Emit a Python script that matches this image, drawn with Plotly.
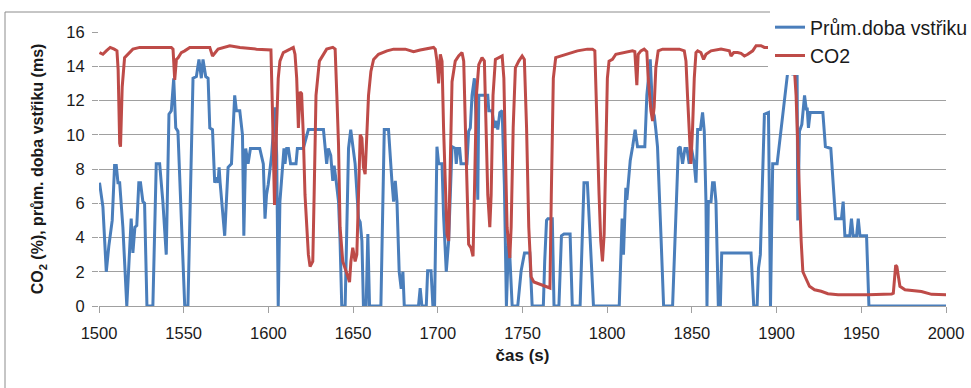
import plotly.graph_objects as go

# ---- data ----
t_inj = [1500.3, 1502.3, 1504.3, 1505.8, 1507.8, 1509.2, 1510.2, 1511.2, 1512.2, 1514.1,
         1516.4, 1519.0, 1520.0, 1521.2, 1522.3, 1523.5, 1524.5, 1525.9, 1526.9, 1528.3,
         1531.8, 1533.8, 1535.8, 1537.7, 1539.7, 1541.3, 1542.7, 1544.1, 1545.3, 1546.6,
         1550.6, 1552.5, 1555.5, 1557.5, 1559.0, 1560.4, 1561.4, 1563.0, 1564.4, 1565.4,
         1567.0, 1568.3, 1569.3, 1570.3, 1570.9, 1571.5, 1574.2, 1576.2, 1578.2, 1580.1,
         1581.1, 1583.1, 1584.7, 1585.5, 1586.6, 1588.0, 1589.4, 1594.9, 1597.0, 1598.0,
         1598.9, 1599.9, 1601.9, 1603.9, 1604.9, 1605.8, 1606.8, 1608.4, 1609.2, 1609.8,
         1610.8, 1611.8, 1613.1, 1616.3, 1617.1, 1620.6, 1623.6, 1632.5, 1633.5, 1634.4,
         1635.4, 1636.8, 1638.0, 1638.8, 1640.0, 1641.4, 1642.3, 1643.3, 1645.3, 1647.3,
         1648.6, 1649.8, 1651.2, 1653.2, 1654.2, 1655.2, 1656.1, 1657.7, 1658.7, 1659.7,
         1666.4, 1668.4, 1670.9, 1672.9, 1673.9, 1674.9, 1675.9, 1677.2, 1678.4, 1679.4,
         1680.2, 1688.6, 1689.6, 1690.6, 1693.2, 1694.0, 1696.0, 1697.1, 1698.1, 1699.5,
         1700.5, 1702.5, 1703.4, 1705.0, 1706.4, 1708.4, 1710.3, 1710.9, 1711.7, 1712.9,
         1713.7, 1717.2, 1718.2, 1719.2, 1720.2, 1721.6, 1722.8, 1723.6, 1724.2, 1729.5,
         1730.1, 1732.0, 1733.4, 1734.6, 1735.4, 1736.6, 1738.0, 1739.3, 1740.5, 1741.9,
         1742.5, 1743.9, 1747.2, 1749.2, 1751.2, 1754.3, 1755.7, 1762.3, 1763.1, 1764.2,
         1765.0, 1767.6, 1768.6, 1771.5, 1773.0, 1774.5, 1778.1, 1779.4, 1784.0, 1785.4,
         1786.3, 1788.3, 1789.3, 1790.3, 1791.9, 1807.1, 1808.0, 1808.8, 1809.6, 1810.4,
         1811.0, 1811.6, 1812.4, 1813.6, 1815.0, 1816.5, 1817.9, 1822.2, 1823.4, 1824.2,
         1825.4, 1826.8, 1827.8, 1828.7, 1829.7, 1831.7, 1833.3, 1838.6, 1842.0, 1843.1,
         1844.5, 1845.9, 1847.1, 1848.4, 1849.4, 1851.4, 1852.4, 1853.4, 1855.0, 1856.3,
         1857.3, 1858.3, 1858.9, 1859.7, 1861.3, 1862.2, 1863.2, 1864.2, 1865.6, 1866.8,
         1867.6, 1884.9, 1886.5, 1888.5, 1889.3, 1890.4, 1891.8, 1892.8, 1895.2, 1896.4,
         1897.1, 1897.7, 1900.3, 1902.7, 1904.6, 1906.6, 1908.6, 1909.6, 1910.6, 1912.1,
         1912.5, 1913.5, 1914.9, 1916.5, 1917.5, 1918.1, 1918.8, 1919.8, 1927.3, 1928.8,
         1932.0, 1933.4, 1934.8, 1938.3, 1939.3, 1940.3, 1943.2, 1944.2, 1945.2, 1947.2,
         1948.2, 1949.2, 1953.1, 1954.5, 2000.0]
v_inj = [7.2, 5.8, 2.0, 3.5, 5.0, 8.2, 8.2, 7.2, 7.2, 4.6,
         0.0, 5.1, 3.1, 4.6, 4.7, 7.2, 7.2, 6.1, 6.0, 0.0,
         0.0, 8.3, 8.3, 6.1, 3.0, 11.2, 11.4, 13.3, 10.4, 10.2,
         0.0, 0.0, 13.3, 13.4, 14.4, 13.3, 14.4, 13.4, 13.3, 10.4,
         10.3, 7.2, 7.5, 7.2, 8.1, 7.2, 4.1, 8.1, 8.3, 12.3,
         11.4, 11.4, 10.0, 4.1, 9.2, 8.3, 9.2, 9.2, 8.3, 5.1,
         6.5, 7.1, 8.8, 11.6, 8.8, 0.0, 6.1, 8.3, 9.2, 8.3,
         9.2, 9.2, 8.3, 8.3, 9.2, 9.2, 10.3, 10.3, 9.4, 8.3,
         9.2, 8.8, 7.3, 8.2, 7.3, 6.1, 3.8, 0.0, 0.0, 9.2,
         10.3, 9.4, 8.3, 5.1, 4.9, 3.8, 0.0, 0.0, 4.2, 0.0,
         0.0, 10.3, 10.3, 7.3, 6.1, 7.3, 6.1, 2.0, 1.0, 2.0,
         0.0, 0.0, 1.05, 0.0, 0.0, 2.06, 2.06, 0.0, 0.0, 9.3,
         8.3, 8.3, 5.3, 2.0, 3.8, 9.3, 9.2, 8.3, 9.2, 9.2,
         8.3, 8.3, 10.2, 10.4, 12.3, 13.3, 10.4, 6.2, 12.3, 12.3,
         11.4, 11.4, 10.4, 10.8, 10.3, 11.3, 11.4, 7.1, 0.0, 4.2,
         2.6, 0.0, 0.0, 2.06, 3.1, 3.1, 0.0, 0.0, 2.6, 5.0,
         5.1, 5.1, 0.0, 0.0, 4.1, 4.2, 4.2, 0.0, 0.0, 5.0,
         7.2, 7.2, 5.0, 3.4, 0.0, 0.0, 3.0, 5.1, 3.0, 5.0,
         6.9, 6.2, 7.2, 8.5, 9.3, 10.3, 9.3, 9.3, 12.3, 13.3,
         14.4, 11.4, 11.1, 10.3, 9.3, 4.2, 0.0, 0.0, 9.2, 9.3,
         8.3, 9.2, 9.2, 8.3, 9.4, 8.3, 7.2, 10.3, 10.3, 11.3,
         10.2, 6.1, 0.0, 6.1, 6.1, 7.2, 7.2, 6.1, 0.0, 0.0,
         3.1, 3.1, 0.0, 0.0, 2.2, 3.0, 8.3, 11.2, 11.3, 0.0,
         4.7, 8.3, 8.3, 10.4, 12.3, 13.7, 13.7, 13.5, 13.7, 13.7,
         5.0, 10.2, 10.6, 12.3, 11.5, 11.5, 10.4, 11.3, 11.3, 9.3,
         9.2, 7.1, 5.1, 5.1, 6.1, 4.1, 4.1, 5.1, 4.1, 4.1,
         5.1, 4.1, 4.1, 0.0, 0.0]

t_co2 = [1500.3, 1502.3, 1504.3, 1506.6, 1509.0, 1510.6, 1511.3, 1512.2, 1512.7, 1513.7,
         1515.1, 1517.0, 1520.0, 1524.0, 1542.7, 1543.7, 1544.7, 1545.7, 1546.7, 1548.6,
         1550.6, 1553.6, 1565.4, 1567.0, 1568.4, 1570.3, 1577.2, 1583.2, 1593.0, 1601.5,
         1602.3, 1603.6, 1604.8, 1605.8, 1606.8, 1608.8, 1612.8, 1614.7, 1615.7, 1616.7,
         1617.7, 1618.7, 1619.6, 1620.6, 1621.6, 1623.6, 1624.6, 1626.2, 1627.0, 1628.1,
         1630.1, 1632.5, 1634.4, 1638.0, 1639.4, 1640.4, 1641.4, 1642.3, 1643.9, 1646.3,
         1647.9, 1648.7, 1649.8, 1651.2, 1652.2, 1653.2, 1654.2, 1655.2, 1656.1, 1657.1,
         1658.1, 1659.1, 1660.5, 1662.1, 1665.0, 1670.0, 1673.9, 1680.8, 1685.7, 1689.6,
         1697.5, 1698.5, 1699.5, 1700.5, 1701.5, 1702.5, 1703.4, 1704.4, 1705.4, 1706.4,
         1707.4, 1708.4, 1710.3, 1712.3, 1714.3, 1715.3, 1716.3, 1717.2, 1718.2, 1719.6,
         1720.8, 1721.6, 1722.8, 1724.2, 1726.1, 1727.5, 1728.7, 1729.5, 1730.7, 1731.5,
         1732.6, 1734.0, 1738.0, 1739.0, 1740.0, 1740.9, 1742.5, 1743.3, 1744.5, 1745.8,
         1747.8, 1749.8, 1751.1, 1752.4, 1753.7, 1755.1, 1756.7, 1760.6, 1763.6, 1765.0,
         1766.2, 1767.0, 1768.2, 1769.6, 1772.5, 1775.5, 1778.4, 1782.4, 1788.3, 1791.3,
         1792.7, 1793.8, 1795.2, 1796.2, 1797.2, 1798.2, 1799.2, 1800.1, 1801.1, 1803.1,
         1805.1, 1810.0, 1814.9, 1816.3, 1817.5, 1818.3, 1819.9, 1821.8, 1823.4, 1824.2,
         1825.8, 1826.8, 1827.7, 1828.7, 1830.1, 1832.7, 1842.6, 1845.5, 1846.5, 1847.4,
         1848.4, 1849.4, 1850.4, 1851.4, 1852.4, 1853.4, 1855.3, 1856.9, 1858.3, 1861.3,
         1867.2, 1872.1, 1873.1, 1874.7, 1877.0, 1879.0, 1881.0, 1883.0, 1885.9, 1887.9,
         1890.8, 1892.8, 1895.2, 1900.0, 1906.0, 1909.5, 1910.6, 1911.5, 1912.5, 1913.5,
         1914.5, 1915.5, 1916.9, 1918.1, 1919.4, 1922.4, 1926.3, 1930.3, 1936.3, 1954.0,
         1967.9, 1968.9, 1970.3, 1971.0, 1972.8, 1975.8, 1985.5, 1991.5, 2000.0]
v_co2 = [14.8, 14.7, 14.9, 15.1, 15.0, 14.9, 13.8, 9.5, 9.3, 12.8,
         14.5, 14.7, 15.0, 15.1, 15.1, 15.0, 13.2, 14.4, 14.5, 14.8,
         14.9, 15.1, 15.1, 14.6, 14.8, 15.0, 15.2, 15.1, 15.0, 14.95,
         11.8, 5.9, 10.4, 13.3, 14.3, 14.8, 15.0, 15.1, 14.7, 13.3,
         10.4, 12.5, 12.4, 10.0, 6.5, 3.0, 2.3, 2.6, 6.5, 12.3,
         14.3, 14.7, 15.0, 15.1, 15.0, 12.3, 9.4, 4.6, 2.6, 1.9,
         1.4, 2.6, 3.4, 2.6, 3.0, 6.5, 10.0, 9.8, 8.1, 7.7,
         10.4, 12.3, 13.7, 14.4, 14.7, 14.9, 15.0, 15.0, 14.85, 14.95,
         15.1, 15.0, 14.3, 13.0, 14.7, 14.3, 10.4, 6.5, 4.2, 3.8,
         8.3, 13.1, 14.3, 14.6, 14.8, 14.3, 10.4, 6.5, 3.6, 3.4,
         2.9, 6.5, 12.3, 14.1, 14.5, 14.3, 10.4, 6.5, 4.6, 6.5,
         12.3, 14.4, 14.6, 13.3, 8.5, 4.6, 2.8, 4.6, 10.4, 13.9,
         14.3, 14.6, 14.4, 10.4, 4.6, 1.7, 1.4, 1.25, 1.15, 1.05,
         1.05, 6.5, 13.3, 14.5, 14.6, 14.7, 14.8, 14.9, 15.0, 15.0,
         14.9, 10.4, 6.5, 3.8, 2.6, 4.2, 8.5, 13.3, 14.3, 14.4,
         14.7, 14.8, 14.9, 14.85, 12.9, 14.7, 14.9, 15.0, 14.85, 13.3,
         11.4, 10.8, 11.6, 13.9, 14.9, 15.0, 15.0, 14.9, 14.3, 12.3,
         10.0, 8.3, 10.4, 13.3, 14.8, 14.9, 14.8, 14.4, 14.7, 14.9,
         15.0, 14.9, 14.6, 14.8, 14.8, 14.75, 14.6, 14.7, 14.9, 15.2,
         15.2, 15.1, 15.1, 15.1, 15.0, 14.8, 13.7, 12.3, 9.4, 6.5,
         3.8, 2.0, 1.7, 1.4, 1.15, 0.95, 0.86, 0.72, 0.66, 0.66,
         0.7, 0.75, 2.38, 2.3, 1.15, 0.95, 0.85, 0.68, 0.66]

x_ticks = [1500, 1550, 1600, 1650, 1700, 1750, 1800, 1850, 1900, 1950, 2000]
y_ticks = [0, 2, 4, 6, 8, 10, 12, 14, 16]

series_names = ["Prům.doba vstřiku", "CO2"]
BLUE = "#4A7EBB"
RED = "#BE4B48"
FONT = "Liberation Sans, Arial, sans-serif"
GRID = "#A0A0A0"

fig = go.Figure()
fig.add_trace(go.Scatter(x=t_inj, y=v_inj, mode="lines", name=series_names[0],
                         line=dict(color=BLUE, width=3)))
fig.add_trace(go.Scatter(x=t_co2, y=v_co2, mode="lines", name=series_names[1],
                         line=dict(color=RED, width=3)))

W, H = 971, 388
ml, mr, mt, mb = 99, 25, 32, 82
pw, ph = W - ml - mr, H - mt - mb

def px_x(p):
    return (p - ml) / pw

def px_y(p):
    return (H - mb - p) / ph

fig.update_layout(
    width=W, height=H,
    margin=dict(l=ml, r=mr, t=mt, b=mb, autoexpand=False),
    paper_bgcolor="white", plot_bgcolor="white",
    font=dict(family=FONT, size=16.5, color="#1a1a1a"),
    showlegend=True,
    legend=dict(x=px_x(770), y=px_y(8), xanchor="left", yanchor="top",
                bgcolor="white", font=dict(size=19.5, color="#1a1a1a"),
                itemwidth=30, tracegroupgap=0),
    xaxis=dict(range=[1500, 2000], tickmode="array", tickvals=x_ticks,
               showgrid=False, zeroline=False, showline=True, linecolor=GRID,
               linewidth=1, ticks="outside", ticklen=6, tickcolor=GRID,
               ticklabelstandoff=6,
               title=dict(text="<b>čas (s)</b>", font=dict(size=17), standoff=8)),
    yaxis=dict(range=[0, 16], tickmode="array", tickvals=y_ticks,
               showgrid=True, gridcolor=GRID, gridwidth=1, zeroline=False,
               showline=False, ticks="outside", ticklen=6, tickcolor=GRID,
               ticklabelstandoff=4,
               title=dict(text="<b>CO<sub>2</sub> (%), prům. doba vstřiku (ms)</b>",
                          font=dict(size=16), standoff=18)),
    shapes=[
        dict(type="rect", xref="paper", yref="paper",
             x0=px_x(5), x1=px_x(990), y0=px_y(12), y1=px_y(400),
             line=dict(color="#8C8C8C", width=1), fillcolor="rgba(0,0,0,0)", layer="below"),
        dict(type="rect", xref="paper", yref="paper",
             x0=px_x(768), x1=px_x(960), y0=px_y(13), y1=px_y(69),
             line=dict(width=0), fillcolor="white", layer="above"),
    ],
)

fig.write_html("out.html", config={"displayModeBar": False},
               post_script="document.body.style.margin='0';document.body.style.overflow='hidden';")
